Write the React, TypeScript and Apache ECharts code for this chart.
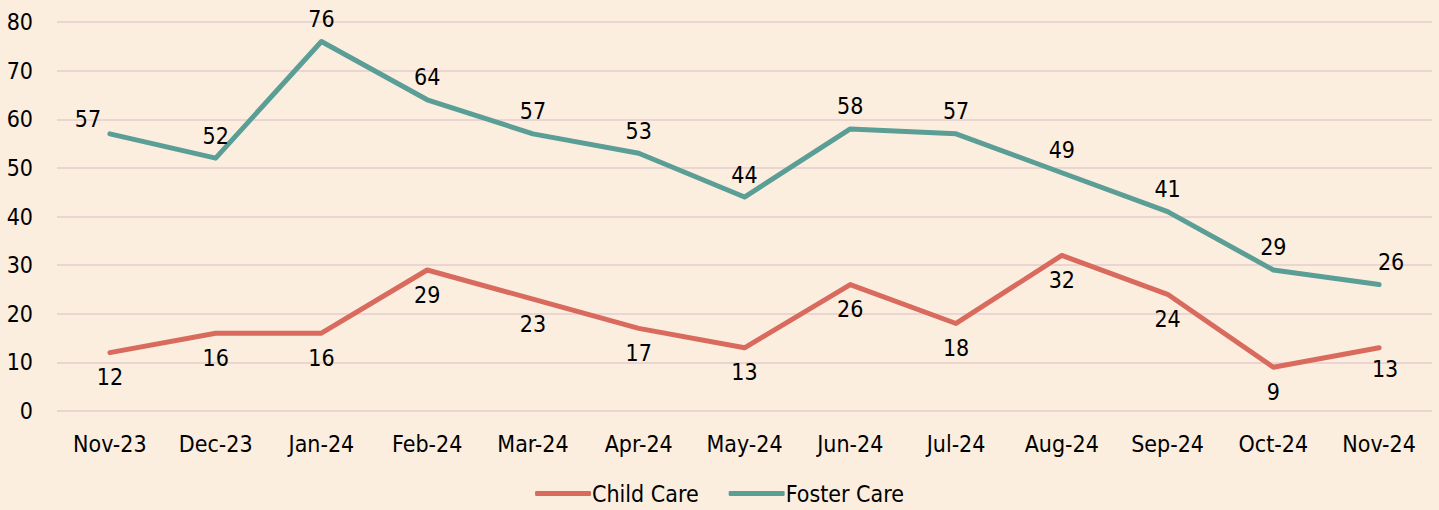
import React, { useEffect, useRef } from "react";
import * as echarts from "echarts";

const categories = ["Nov-23", "Dec-23", "Jan-24", "Feb-24", "Mar-24", "Apr-24", "May-24", "Jun-24", "Jul-24", "Aug-24", "Sep-24", "Oct-24", "Nov-24"];
const childCare = [12, 16, 16, 29, 23, 17, 13, 26, 18, 32, 24, 9, 13];
const fosterCare = [57, 52, 76, 64, 57, 53, 44, 58, 57, 49, 41, 29, 26];
const yTicks = { min: 0, max: 80, interval: 10 };

const FONT = "'DejaVu Sans Condensed', 'DejaVu Sans'";
const FS = 23;

export default function App() {
  const ref = useRef<HTMLDivElement>(null);
  useEffect(() => {
    const chart = echarts.init(ref.current!, null, { renderer: "svg" });
    const last = categories.length - 1;
    const fosterData = fosterCare.map((v, i) => {
      if (i === 0) return { value: v, label: { offset: [-22, 8] } };
      if (i === last) return { value: v, label: { offset: [12, 0] } };
      return v;
    });
    const childData = childCare.map((v, i) => {
      if (i === last) return { value: v, label: { offset: [6, -3] } };
      return v;
    });
    chart.setOption({
      animation: false,
      backgroundColor: "#FBEEDF",
      textStyle: { fontFamily: FONT },
      grid: { left: 57, right: 7, top: 22, bottom: 99, containLabel: false },
      legend: {
        bottom: 0,
        left: "center",
        itemWidth: 56,
        itemHeight: 5,
        itemGap: 30,
        icon: "roundRect",
        textStyle: { fontFamily: FONT, fontSize: FS, color: "#000", padding: [0, 0, 0, -4] },
        data: ["Child Care", "Foster Care"],
      },
      xAxis: {
        type: "category",
        data: categories,
        boundaryGap: true,
        axisLine: { show: false },
        axisTick: { show: false },
        axisLabel: { fontFamily: FONT, fontSize: FS, color: "#000", margin: 21 },
      },
      yAxis: {
        type: "value",
        min: yTicks.min,
        max: yTicks.max,
        interval: yTicks.interval,
        axisLine: { show: false },
        axisTick: { show: false },
        splitLine: { lineStyle: { color: "#EBD5D3", width: 2 } },
        axisLabel: { fontFamily: FONT, fontSize: FS, color: "#000", margin: 24 },
      },
      series: [
        {
          name: "Child Care",
          type: "line",
          data: childData,
          symbol: "circle",
          symbolSize: 0.1,
          showSymbol: true,
          lineStyle: { color: "#D96B5E", width: 5, cap: "round", join: "round" },
          itemStyle: { color: "#D96B5E" },
          label: { show: true, position: "bottom", distance: 13, fontFamily: FONT, fontSize: FS, color: "#000" },
        },
        {
          name: "Foster Care",
          type: "line",
          data: fosterData,
          symbol: "circle",
          symbolSize: 0.1,
          showSymbol: true,
          lineStyle: { color: "#5B9E96", width: 5, cap: "round", join: "round" },
          itemStyle: { color: "#5B9E96" },
          label: { show: true, position: "top", distance: 11, fontFamily: FONT, fontSize: FS, color: "#000" },
        },
      ],
    });
    return () => chart.dispose();
  }, []);
  return <div ref={ref} style={{ width: 1439, height: 510, position: "absolute", left: 0, top: 0 }} />;
}
